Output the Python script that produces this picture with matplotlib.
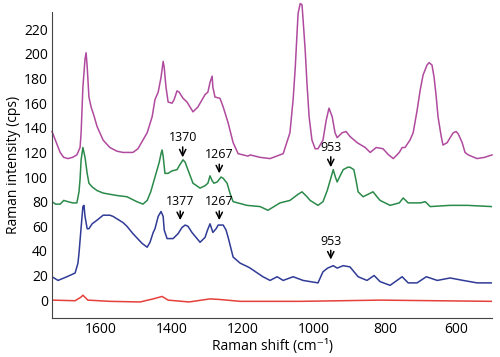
import matplotlib
matplotlib.use("Agg")
import matplotlib.pyplot as plt

# spectra (Raman shift in cm-1, intensity in cps)
pink_x = [1738, 1715, 1705, 1693, 1680, 1668, 1659, 1656, 1651, 1645, 1642, 1639, 1634, 1628,
          1620, 1611, 1594, 1575, 1555, 1538, 1510, 1496, 1482, 1470, 1456, 1448, 1439, 1431,
          1425, 1422, 1417, 1411, 1400, 1394, 1386, 1380, 1369, 1358, 1341, 1327, 1307, 1299,
          1293, 1287, 1285, 1279, 1265, 1256, 1242, 1228, 1214, 1186, 1180, 1152, 1124, 1087,
          1068, 1059, 1053, 1048, 1045, 1039, 1034, 1031, 1025, 1020, 1014, 1006, 997, 989,
          975, 966, 958, 949, 941, 935, 921, 910, 899, 879, 856, 842, 825, 806, 790, 777,
          760, 752, 744, 730, 721, 710, 701, 693, 682, 676, 668, 662, 656, 651, 642, 637,
          625, 617, 608, 600, 594, 583, 575, 566, 541, 520, 499]
pink_y = [137, 120, 116, 115, 116, 118, 124, 136, 173, 196, 201, 190, 165, 157,
          150, 141, 130, 124, 121, 120, 120, 123, 130, 136, 149, 163, 169, 181,
          194, 189, 173, 161, 160, 163, 170, 169, 164, 161, 153, 157, 167, 169,
          177, 182, 173, 165, 164, 157, 144, 128, 119, 117, 118, 116, 115, 119,
          136, 163, 189, 217, 233, 241, 240, 228, 203, 176, 149, 130, 123, 123,
          130, 146, 156, 149, 136, 132, 136, 137, 133, 128, 124, 120, 124, 123, 118, 115,
          120, 124, 124, 130, 136, 154, 171, 183, 191, 193, 191, 181, 165, 149, 133, 126,
          128, 132, 136, 137, 135, 128, 120, 118, 115, 116, 118]

green_x = [1738, 1728, 1715, 1705, 1693, 1680, 1668, 1662, 1659, 1656, 1651, 1648, 1645, 1639,
           1634, 1625, 1611, 1594, 1575, 1555, 1527, 1499, 1482, 1470, 1460, 1453, 1442, 1436,
           1431, 1428, 1425, 1420, 1411, 1400, 1386, 1378, 1369, 1363, 1358, 1341, 1321, 1307,
           1299, 1293, 1287, 1282, 1273, 1262, 1256, 1245, 1237, 1228, 1189, 1152, 1130, 1096,
           1068, 1045, 1034, 1020, 1011, 989, 975, 963, 952, 946, 940, 935, 925, 918, 905, 899,
           888, 881, 876, 862, 848, 834, 820, 814, 786, 760, 749, 735, 700, 687, 673, 617,
           569, 499]
green_y = [80, 78, 78, 81, 80, 79, 79, 88, 98, 114, 124, 120, 116, 103,
           95, 92, 89, 87, 86, 85, 84, 80, 78, 81, 88, 95, 106, 112,
           119, 122, 117, 103, 103, 105, 106, 110, 114, 112, 108, 95, 91, 93,
           95, 101, 97, 95, 96, 100, 99, 95, 87, 80, 77, 76, 73, 79,
           81, 86, 88, 84, 81, 77, 80, 89, 100, 106, 100, 96, 102, 106, 108, 108,
           106, 96, 88, 84, 86, 88, 83, 81, 77, 79, 83, 79, 79, 80, 76, 77,
           77, 76]

blue_x = [1738, 1721, 1696, 1673, 1665, 1662, 1656, 1651, 1648, 1645, 1639, 1634, 1625, 1611,
          1594, 1575, 1566, 1538, 1527, 1510, 1484, 1470, 1462, 1453, 1448, 1439, 1431, 1425,
          1422, 1414, 1397, 1383, 1372, 1363, 1355, 1344, 1321, 1307, 1300, 1293, 1285, 1276,
          1270, 1256, 1248, 1242, 1228, 1208, 1186, 1180, 1144, 1124, 1104, 1087, 1059, 1031,
          989, 975, 962, 946, 935, 918, 899, 876, 851, 831, 814, 786, 752, 735, 710, 684,
          653, 617, 580, 541, 499]
blue_y = [19, 16, 19, 22, 30, 38, 59, 76, 77, 68, 58, 58, 62, 65,
          69, 69, 68, 63, 60, 54, 46, 43, 47, 55, 58, 68, 72, 68,
          57, 50, 50, 54, 59, 61, 60, 55, 47, 51, 57, 62, 55, 58,
          61, 61, 57, 51, 35, 30, 27, 26, 19, 16, 19, 16, 19, 16,
          14, 23, 26, 28, 26, 28, 27, 19, 16, 20, 15, 12, 19, 14, 14, 19,
          16, 18, 16, 14, 14]

red_x = [1738, 1673, 1656, 1651, 1637, 1575, 1490, 1453, 1434, 1428, 1411, 1352, 1293, 1265,
         1208, 1039, 814, 499]
red_y = [0, -0.5, 2.5, 4, 0, -1, -1.5, 1, 2.5, 3, 0, -1.5, 1, 0.5,
         -1, -1, 0, -1]

# peak labels: (label, position, text height, arrow tip)
marks = [("1370", 1370, 132, 116), ("1267", 1267, 118, 103), ("953", 953, 124, 108),
         ("1377", 1377, 80, 65), ("1267", 1267, 80, 65), ("953", 953, 48, 33)]

plt.rcParams['font.family'] = ['Open Sans', 'DejaVu Sans']

fig = plt.figure(figsize=(5, 3.57), dpi=100)
ax = fig.add_axes([0.104, 0.109, 0.88, 0.857])

ax.plot(pink_x, pink_y, color="#b04a9e", lw=1.1, clip_on=False)
ax.plot(green_x, green_y, color="#2a8a4a", lw=1.1)
ax.plot(blue_x, blue_y, color="#2f3b96", lw=1.1)
ax.plot(red_x, red_y, color="#e5403a", lw=1.1)

for label, pos, ty, tip in marks:
    ax.annotate(label, xy=(pos, tip), xytext=(pos, ty), ha="center", va="center", fontsize=9,
                arrowprops=dict(arrowstyle="->,head_length=0.5,head_width=0.25", color="black",
                                lw=1.1, shrinkA=0, shrinkB=0))

ax.set_xlim(1738, 499)
ax.set_ylim(-14.6, 234)
ax.set_xticks([1600, 1400, 1200, 1000, 800, 600])
ax.set_yticks(range(0, 221, 20))
ax.tick_params(length=0, labelsize=10, pad=3)
for s in ["top", "right"]:
    ax.spines[s].set_visible(False)
ax.spines["left"].set_color("#444444")
ax.spines["bottom"].set_color("#444444")
ax.set_xlabel("Raman shift (cm\u207b\u00b9)", fontsize=10, labelpad=1)
ax.set_ylabel("Raman intensity (cps)", fontsize=10, labelpad=2)

fig.savefig("out.png", dpi=100)
